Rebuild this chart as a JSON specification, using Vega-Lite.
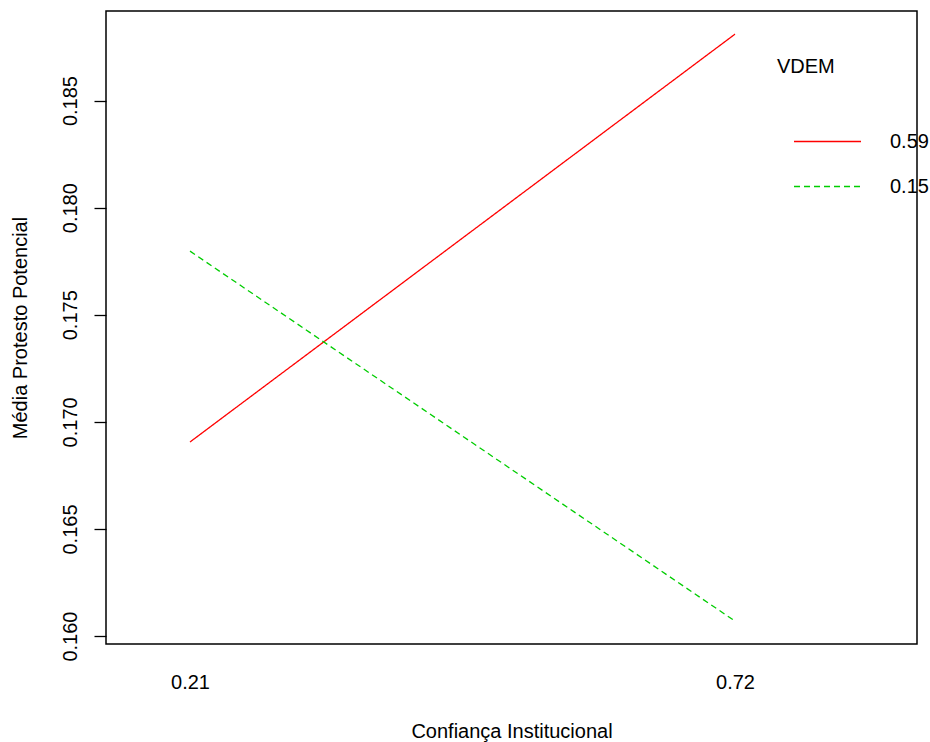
{
  "$schema": "https://vega.github.io/schema/vega-lite/v6.json",
  "width": 811,
  "height": 633,
  "autosize": "none",
  "padding": {"left": 106, "top": 11, "right": 13, "bottom": 98},
  "background": "white",
  "config": {
    "font": "Liberation Sans",
    "view": {"stroke": "black", "strokeWidth": 1.5},
    "legend": {
      "orient": "none",
      "legendX": 671,
      "legendY": 46,
      "titleFontSize": 20,
      "titleFontWeight": "normal",
      "titleColor": "black",
      "titlePadding": 30,
      "labelFontSize": 20,
      "labelColor": "black",
      "symbolType": "stroke",
      "symbolSize": 4489,
      "symbolStrokeWidth": 1.3,
      "symbolOffset": 16,
      "labelOffset": 28,
      "rowPadding": -21
    }
  },
  "data": {
    "values": [
      {"conf": 0.21, "media": 0.16906, "VDEM": "0.59"},
      {"conf": 0.72, "media": 0.1881, "VDEM": "0.59"},
      {"conf": 0.21, "media": 0.17797, "VDEM": "0.15"},
      {"conf": 0.72, "media": 0.1607, "VDEM": "0.15"}
    ]
  },
  "mark": {"type": "line", "strokeWidth": 1.3},
  "encoding": {
    "x": {
      "field": "conf",
      "type": "quantitative",
      "scale": {"domain": [0.1314, 0.8903], "nice": false, "zero": false},
      "axis": {
        "values": [0.21, 0.72],
        "format": ".2f",
        "ticks": false,
        "domain": false,
        "grid": false,
        "labelFontSize": 20,
        "labelColor": "black",
        "labelPadding": 28,
        "title": "Confiança Institucional",
        "titleFontSize": 20,
        "titleFontWeight": "normal",
        "titleColor": "black",
        "titlePadding": 29
      }
    },
    "y": {
      "field": "media",
      "type": "quantitative",
      "scale": {"domain": [0.15963, 0.18918], "nice": false, "zero": false},
      "axis": {
        "values": [0.16, 0.165, 0.17, 0.175, 0.18, 0.185],
        "format": ".3f",
        "grid": false,
        "domain": false,
        "ticks": true,
        "tickColor": "black",
        "tickSize": 12,
        "tickWidth": 1.3,
        "labelAngle": -90,
        "labelAlign": "center",
        "labelBaseline": "bottom",
        "labelFontSize": 20,
        "labelColor": "black",
        "labelPadding": 14,
        "title": "Média Protesto Potencial",
        "titleFontSize": 20,
        "titleFontWeight": "normal",
        "titleColor": "black",
        "titlePadding": 30
      }
    },
    "color": {
      "field": "VDEM",
      "type": "nominal",
      "sort": ["0.59", "0.15"],
      "scale": {"domain": ["0.59", "0.15"], "range": ["#FF0000", "#00CD00"]}
    },
    "strokeDash": {
      "field": "VDEM",
      "type": "nominal",
      "sort": ["0.59", "0.15"],
      "scale": {"domain": ["0.59", "0.15"], "range": [[1, 0], [6, 4]]}
    }
  }
}
